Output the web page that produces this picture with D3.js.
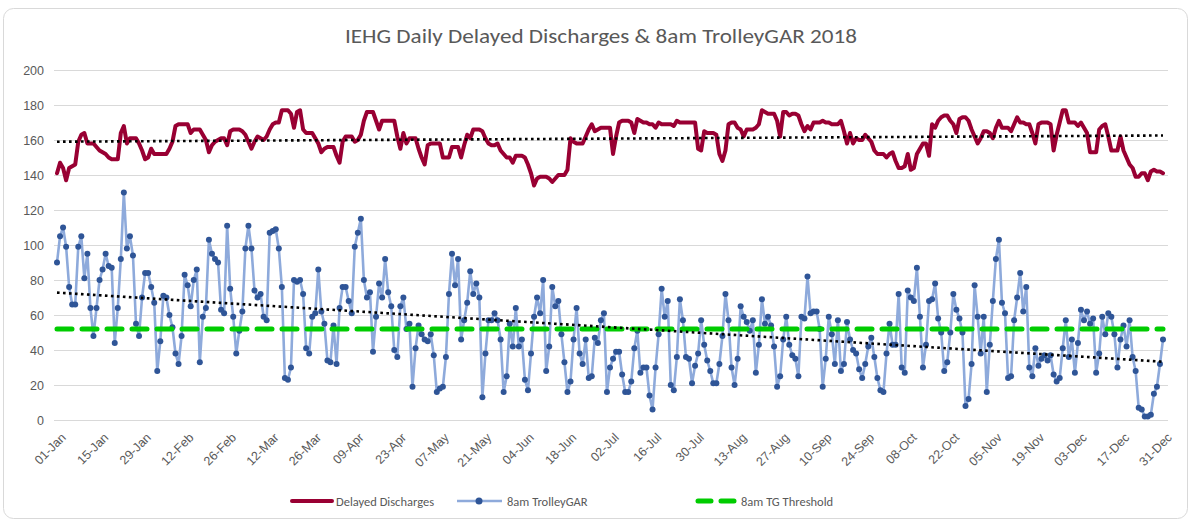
<!DOCTYPE html>
<html>
<head>
<meta charset="utf-8">
<script src="https://cdn.jsdelivr.net/npm/d3@7"></script>
<style>
  html, body { margin: 0; padding: 0; background: #fff; }
  svg { display: block; font-family: Carlito, Calibri, "Liberation Sans Narrow", "Open Sans", sans-serif; }
</style>
</head>
<body>
<svg id="chart" width="1192" height="525"></svg>
<script>
// IEHG daily delayed discharges and 8am TrolleyGAR, 2018 (one value per day, 01-Jan .. 31-Dec)

const title = 'IEHG Daily Delayed Discharges & 8am TrolleyGAR 2018';

const tickLabels = ['01-Jan', '15-Jan', '29-Jan', '12-Feb', '26-Feb', '12-Mar', '26-Mar', '09-Apr',
  '23-Apr', '07-May', '21-May', '04-Jun', '18-Jun', '02-Jul', '16-Jul', '30-Jul', '13-Aug',
  '27-Aug', '10-Sep', '24-Sep', '08-Oct', '22-Oct', '05-Nov', '19-Nov', '03-Dec', '17-Dec', '31-Dec'];

const yTicks = [0, 20, 40, 60, 80, 100, 120, 140, 160, 180, 200];

const delayedDischarges = [
  141, 147, 144, 137, 144, 145, 146, 159, 163, 164,
  158, 158, 158, 156, 154, 153, 152, 150, 149, 149,
  149, 164, 168, 158, 161, 161, 161, 158, 154, 149,
  150, 155, 152, 152, 152, 152, 152, 155, 159, 168,
  169, 169, 169, 169, 164, 166, 166, 166, 163, 160,
  153, 157, 159, 160, 161, 161, 157, 165, 166, 166,
  166, 165, 163, 159, 155, 159, 162, 161, 160, 162,
  166, 169, 170, 170, 177, 177, 177, 175, 167, 176,
  177, 166, 164, 164, 164, 161, 158, 153, 155, 156,
  156, 156, 151, 147, 159, 162, 162, 162, 159, 160,
  163, 171, 176, 176, 176, 171, 166, 171, 171, 171,
  171, 171, 162, 155, 164, 158, 161, 161, 161, 155,
  150, 146, 157, 158, 158, 158, 158, 150, 150, 150,
  156, 156, 156, 150, 157, 163, 161, 166, 166, 166,
  165, 161, 158, 157, 157, 158, 154, 152, 150, 150,
  147, 151, 151, 151, 150, 146, 141, 134, 138, 139,
  139, 139, 138, 136, 138, 140, 140, 140, 143, 161,
  159, 158, 158, 158, 162, 166, 169, 165, 166, 167,
  167, 167, 167, 152, 162, 170, 171, 171, 171, 170,
  164, 172, 171, 170, 170, 169, 169, 167, 170, 169,
  169, 169, 169, 168, 171, 170, 170, 170, 170, 170,
  170, 155, 154, 165, 164, 164, 164, 163, 152, 148,
  154, 169, 170, 170, 167, 166, 162, 166, 166, 166,
  167, 169, 177, 176, 175, 175, 175, 171, 162, 176,
  176, 174, 175, 175, 174, 169, 165, 168, 166, 170,
  170, 170, 171, 170, 170, 169, 169, 169, 171, 165,
  158, 164, 158, 161, 160, 160, 163, 161, 159, 154,
  152, 152, 152, 150, 152, 153, 148, 144, 144, 145,
  152, 143, 144, 152, 155, 158, 158, 151, 169, 167,
  171, 173, 174, 174, 171, 169, 164, 172, 173, 173,
  171, 166, 162, 158, 161, 165, 165, 164, 161, 167,
  171, 167, 167, 167, 165, 169, 173, 170, 170, 169,
  169, 164, 158, 169, 170, 170, 170, 169, 154, 163,
  170, 177, 177, 170, 170, 170, 168, 170, 167, 164,
  153, 153, 153, 166, 168, 169, 162, 154, 154, 154,
  162, 154, 150, 146, 144, 139, 139, 141, 141, 137,
  142, 143, 142, 142, 141
];

const trolleyGar = [
  90, 105, 110, 99, 76, 66, 66, 99, 105, 81,
  95, 64, 48, 64, 80, 86, 95, 88, 87, 44,
  64, 92, 130, 98, 105, 94, 55, 48, 70, 84,
  84, 76, 67, 28, 45, 71, 70, 60, 53, 38,
  32, 48, 83, 77, 65, 80, 86, 33, 59, 64,
  103, 95, 92, 90, 63, 61, 111, 75, 59, 38,
  51, 62, 98, 111, 98, 74, 70, 72, 59, 57,
  107, 108, 109, 98, 76, 24, 23, 30, 80, 79,
  80, 72, 41, 38, 59, 61, 86, 62, 55, 34,
  33, 54, 32, 64, 76, 76, 68, 61, 99, 107,
  115, 80, 70, 73, 39, 59, 78, 70, 92, 73,
  65, 40, 36, 65, 70, 52, 55, 19, 41, 54,
  49, 46, 45, 49, 37, 16, 18, 19, 36, 72,
  95, 77, 92, 46, 57, 67, 85, 72, 78, 70,
  13, 38, 57, 57, 61, 57, 46, 16, 25, 55,
  42, 64, 42, 46, 23, 17, 38, 59, 70, 61,
  80, 28, 42, 76, 65, 68, 49, 33, 16, 22,
  46, 64, 38, 32, 46, 24, 25, 47, 44, 57,
  61, 16, 30, 35, 39, 39, 26, 16, 16, 22,
  41, 51, 27, 30, 30, 14, 6, 30, 49, 75,
  59, 68, 20, 17, 36, 69, 57, 36, 35, 21,
  31, 38, 57, 43, 34, 28, 21, 21, 32, 48,
  72, 57, 30, 20, 35, 65, 59, 56, 51, 57,
  27, 43, 69, 55, 59, 54, 42, 19, 25, 46,
  59, 43, 37, 35, 25, 59, 58, 82, 61, 62,
  62, 52, 19, 35, 59, 49, 32, 57, 28, 32,
  56, 46, 40, 38, 29, 24, 32, 42, 47, 36,
  24, 17, 16, 38, 55, 43, 43, 72, 30, 27,
  74, 70, 68, 87, 59, 30, 43, 68, 69, 78,
  58, 50, 28, 33, 50, 72, 63, 58, 50, 8,
  12, 32, 77, 59, 38, 59, 16, 43, 68, 92,
  103, 67, 61, 24, 25, 57, 70, 84, 62, 76,
  30, 25, 41, 31, 35, 37, 34, 37, 26, 22,
  24, 41, 57, 36, 46, 27, 44, 63, 57, 62,
  55, 58, 27, 38, 59, 49, 61, 59, 49, 30,
  46, 54, 42, 57, 36, 28, 7, 6, 2, 2,
  3, 15, 19, 32, 46
];

const tgThreshold = 52;

const legendItems = ['Delayed Discharges', '8am TrolleyGAR', '8am TG Threshold'];

/* ------------------------------------------------------------------ */

const RED = '#990033', BLUE_LINE = '#8eaadb', BLUE_DOT = '#2f5597', GREEN = '#00cc00';
const TEXT = '#595959', GRID = '#d9d9d9';

const svg = d3.select('#chart');

// card outline
svg.append('rect')
  .attr('x', 3.5).attr('y', 8.5).attr('width', 1184).attr('height', 510)
  .attr('rx', 10)
  .attr('fill', '#fff').attr('stroke', '#d9d9d9');

svg.append('text')
  .attr('x', 601).attr('y', 43)
  .attr('text-anchor', 'middle')
  .attr('fill', TEXT).attr('font-size', 19.5)
  .attr('textLength', 512).attr('lengthAdjust', 'spacingAndGlyphs')
  .text(title);

const days = d3.range(delayedDischarges.length);
const x = d3.scaleLinear().domain([0, days.length - 1]).range([57, 1163]);
const y = d3.scaleLinear().domain([0, 200]).range([420, 70]);

// gridlines + y labels
const yAxis = d3.axisLeft(y).tickValues(yTicks).tickSize(-(1168 - 54)).tickPadding(10);
const gy = svg.append('g').attr('transform', 'translate(54,0)').call(yAxis);
gy.select('.domain').remove();
gy.selectAll('.tick line').attr('stroke', GRID).attr('stroke-width', 1);
gy.selectAll('.tick text').attr('fill', TEXT).attr('font-size', 12.5).attr('font-family', null);

// x labels, every 14 days
const xTickDays = tickLabels.map((_, i) => i * 14);
const xAxis = d3.axisBottom(x).tickValues(xTickDays).tickSize(0)
  .tickFormat((d, i) => tickLabels[i]);
const gx = svg.append('g').attr('transform', 'translate(0,427)').call(xAxis);
gx.select('.domain').remove();
gx.selectAll('.tick text')
  .attr('fill', TEXT).attr('font-size', 12.5).attr('font-family', null)
  .attr('text-anchor', 'end')
  .attr('dy', '0.35em')
  .attr('transform', 'translate(4,6) rotate(-45)');

const line = d3.line().x((d, i) => x(i)).y(d => y(d));

// delayed discharges
svg.append('path').datum(delayedDischarges)
  .attr('d', line)
  .attr('fill', 'none').attr('stroke', RED)
  .attr('stroke-width', 4).attr('stroke-linejoin', 'round').attr('stroke-linecap', 'round');

// trolleyGAR
svg.append('path').datum(trolleyGar)
  .attr('d', line)
  .attr('fill', 'none').attr('stroke', BLUE_LINE)
  .attr('stroke-width', 2.6).attr('stroke-linejoin', 'round');
svg.append('g').selectAll('circle').data(trolleyGar).join('circle')
  .attr('cx', (d, i) => x(i)).attr('cy', d => y(d))
  .attr('r', 3).attr('fill', BLUE_DOT);

// threshold
svg.append('line')
  .attr('x1', x(0)).attr('x2', x(days.length - 1))
  .attr('y1', y(tgThreshold)).attr('y2', y(tgThreshold))
  .attr('stroke', GREEN).attr('stroke-width', 5)
  .attr('stroke-dasharray', '15 10').attr('stroke-linecap', 'round');

// linear trendlines
function trend(values) {
  const n = values.length;
  const mx = d3.mean(days), my = d3.mean(values);
  let sxy = 0, sxx = 0;
  values.forEach((v, i) => { sxy += (i - mx) * (v - my); sxx += (i - mx) * (i - mx); });
  const b = sxy / sxx, a = my - b * mx;
  return [[0, a], [n - 1, a + b * (n - 1)]];
}
[delayedDischarges, trolleyGar].forEach(series => {
  const [p0, p1] = trend(series);
  svg.append('line')
    .attr('x1', x(p0[0])).attr('y1', y(p0[1]))
    .attr('x2', x(p1[0])).attr('y2', y(p1[1]))
    .attr('stroke', '#000').attr('stroke-width', 2.6)
    .attr('stroke-dasharray', '2.6 3.4');
});

// legend
const lg = svg.append('g').attr('font-size', 12.5).attr('fill', TEXT);
const ly = 501;
lg.append('line').attr('x1', 292).attr('x2', 332).attr('y1', ly).attr('y2', ly)
  .attr('stroke', RED).attr('stroke-width', 4).attr('stroke-linecap', 'round');
lg.append('text').attr('x', 336).attr('y', ly + 4.5).text(legendItems[0]);
lg.append('line').attr('x1', 457).attr('x2', 502).attr('y1', ly).attr('y2', ly)
  .attr('stroke', BLUE_LINE).attr('stroke-width', 2.6);
lg.append('circle').attr('cx', 479).attr('cy', ly).attr('r', 3.5).attr('fill', BLUE_DOT);
lg.append('text').attr('x', 507).attr('y', ly + 4.5).text(legendItems[1]);
lg.append('line').attr('x1', 698).attr('x2', 735).attr('y1', ly).attr('y2', ly)
  .attr('stroke', GREEN).attr('stroke-width', 5).attr('stroke-linecap', 'round')
  .attr('stroke-dasharray', '13 10');
lg.append('text').attr('x', 741).attr('y', ly + 4.5).text(legendItems[2]);
</script>
</body>
</html>
